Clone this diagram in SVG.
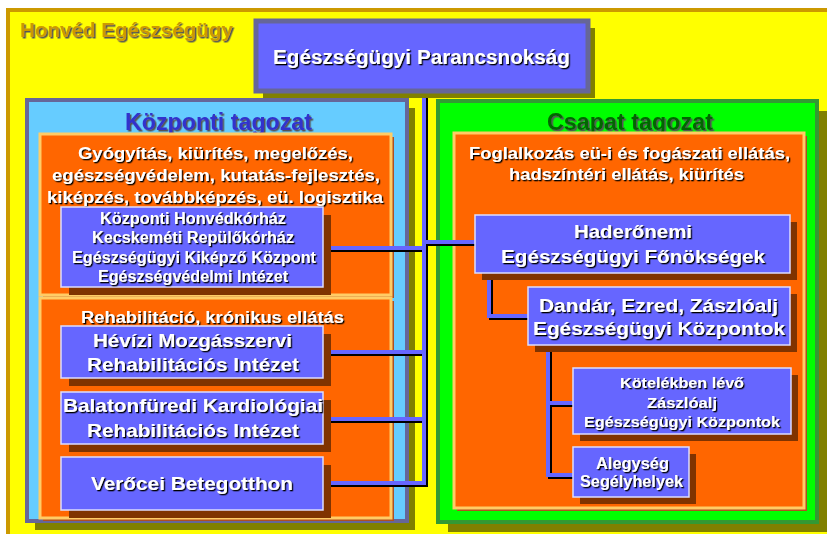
<svg xmlns="http://www.w3.org/2000/svg" width="827" height="534" viewBox="0 0 827 534">
<defs>
<filter id="ts" x="-5%" y="-20%" width="110%" height="140%"><feDropShadow dx="1.3" dy="1.3" stdDeviation="0" flood-color="#000" flood-opacity="1"/></filter>
<filter id="ts2" x="-5%" y="-20%" width="110%" height="140%"><feDropShadow dx="1.5" dy="1.5" stdDeviation="0" flood-color="#555" flood-opacity="1"/></filter>
</defs>
<style>
text{font-family:"Liberation Sans",Arial,sans-serif;font-weight:bold;text-anchor:middle}
.w{fill:#fff;filter:url(#ts)}
.box{fill:#6666FF;stroke:#DDDDFF;stroke-width:1.5}
.bsh{fill:#803300}
.org{fill:#FF6600;stroke:#FFCC66;stroke-width:3}
.osh{fill:#B05020}
.ln{fill:none;stroke:#6666FF;stroke-width:4;stroke-linejoin:miter}
.lns{fill:none;stroke:#000;stroke-width:4;stroke-linejoin:miter}
</style>
<rect x="0" y="0" width="827" height="534" fill="#fff"/>
<g id="frame">
<rect x="8" y="10" width="830" height="530" fill="#FFFF00" stroke="#CC9900" stroke-width="4"/>
<text x="20" y="37" textLength="213" lengthAdjust="spacingAndGlyphs" style="text-anchor:start;font-size:19.5px;fill:#CC9900;filter:url(#ts2)">Honvéd Egészségügy</text>
</g>
<g id="kozponti">
<rect x="35" y="108" width="380" height="422" fill="#808000"/>
<rect x="27" y="100" width="380" height="421" fill="#66CCFF" stroke="#666699" stroke-width="4"/>
<text x="218.5" y="130" textLength="187" lengthAdjust="spacingAndGlyphs" style="font-size:23px;fill:#3333CC;filter:url(#ts2)">Központi tagozat</text>
</g>
<g id="csapat">
<rect x="448" y="111" width="380" height="421" fill="#808000"/>
<rect x="438" y="101" width="379" height="421" fill="#00FF00" stroke="#339933" stroke-width="4"/>
<text x="630" y="130" textLength="166" lengthAdjust="spacingAndGlyphs" style="font-size:23px;fill:#006600;filter:url(#ts2)">Csapat tagozat</text>
</g>
<g id="kozponti-feladat">
<rect x="43" y="137" width="351" height="161" class="osh"/>
<rect x="40" y="134" width="351" height="161" class="org"/>
<text class="w" x="215.5" y="159" textLength="275" lengthAdjust="spacingAndGlyphs" style="font-size:17px">Gyógyítás, kiürítés, megelőzés,</text>
<text class="w" x="216" y="181" textLength="328" lengthAdjust="spacingAndGlyphs" style="font-size:17px">egészségvédelem, kutatás-fejlesztés,</text>
<text class="w" x="215" y="203" textLength="336" lengthAdjust="spacingAndGlyphs" style="font-size:17px">kiképzés, továbbképzés, eü. logisztika</text>
</g>
<g id="rehab">
<rect x="43" y="301" width="351" height="220" class="osh"/>
<rect x="40" y="298" width="351" height="220" class="org"/>
<text class="w" x="212.5" y="323" textLength="263" lengthAdjust="spacingAndGlyphs" style="font-size:16px">Rehabilitáció, krónikus ellátás</text>
</g>
<g id="csapat-feladat">
<rect x="457" y="136" width="350" height="375" class="osh"/>
<rect x="454" y="133" width="350" height="375" class="org"/>
<text class="w" x="629.5" y="159" textLength="321" lengthAdjust="spacingAndGlyphs" style="font-size:17px">Foglalkozás eü-i és fogászati ellátás,</text>
<text class="w" x="626.5" y="180" textLength="235" lengthAdjust="spacingAndGlyphs" style="font-size:17px">hadszíntéri ellátás, kiürítés</text>
</g>
<g id="connectors">
<polyline class="lns" points="426,93 426,485 325,485"/>
<polyline class="lns" points="325,250 426,250"/>
<polyline class="lns" points="325,354 426,354"/>
<polyline class="lns" points="325,421 426,421"/>
<polyline class="lns" points="426,244 477,244"/>
<polyline class="lns" points="491,275 491,318 530,318"/>
<polyline class="lns" points="550,347 550,477 575,477"/>
<polyline class="lns" points="550,405 575,405"/>
<polyline class="ln" points="424,91 424,483 323,483"/>
<polyline class="ln" points="323,248 424,248"/>
<polyline class="ln" points="323,352 424,352"/>
<polyline class="ln" points="323,419 424,419"/>
<polyline class="ln" points="424,242 475,242"/>
<polyline class="ln" points="489,273 489,316 528,316"/>
<polyline class="ln" points="548,345 548,475 573,475"/>
<polyline class="ln" points="548,403 573,403"/>
</g>
<g id="parancsnoksag">
<rect x="263" y="28" width="332" height="70" fill="#808000"/>
<rect x="256" y="21" width="332" height="70" fill="#6666FF" stroke="#666699" stroke-width="5"/>
<text class="w" x="421.5" y="64" textLength="297" lengthAdjust="spacingAndGlyphs" style="font-size:20px">Egészségügyi Parancsnokság</text>
</g>
<g id="kozponti-intezmenyek">
<rect x="69" y="215" width="262" height="80" class="bsh"/>
<rect x="61" y="207" width="262" height="80" class="box"/>
<text class="w" x="193" y="224" textLength="186" lengthAdjust="spacingAndGlyphs" style="font-size:16px">Központi Honvédkórház</text>
<text class="w" x="193" y="243" textLength="202" lengthAdjust="spacingAndGlyphs" style="font-size:16px">Kecskeméti Repülőkórház</text>
<text class="w" x="194" y="263" textLength="244" lengthAdjust="spacingAndGlyphs" style="font-size:16px">Egészségügyi Kiképző Központ</text>
<text class="w" x="193" y="282" textLength="190" lengthAdjust="spacingAndGlyphs" style="font-size:16px">Egészségvédelmi Intézet</text>
</g>
<g id="hevizi">
<rect x="69" y="334" width="262" height="52" class="bsh"/>
<rect x="61" y="326" width="262" height="52" class="box"/>
<text class="w" x="192.5" y="347" textLength="199" lengthAdjust="spacingAndGlyphs" style="font-size:19px">Hévízi Mozgásszervi</text>
<text class="w" x="193" y="371" textLength="212" lengthAdjust="spacingAndGlyphs" style="font-size:19px">Rehabilitációs Intézet</text>
</g>
<g id="balatonfuredi">
<rect x="69" y="400" width="262" height="52" class="bsh"/>
<rect x="61" y="392" width="262" height="52" class="box"/>
<text class="w" x="193" y="412" textLength="260" lengthAdjust="spacingAndGlyphs" style="font-size:19px">Balatonfüredi Kardiológiai</text>
<text class="w" x="193" y="437" textLength="212" lengthAdjust="spacingAndGlyphs" style="font-size:19px">Rehabilitációs Intézet</text>
</g>
<g id="verocei">
<rect x="69" y="465" width="262" height="53" class="bsh"/>
<rect x="61" y="457" width="262" height="53" class="box"/>
<text class="w" x="192" y="490" textLength="202" lengthAdjust="spacingAndGlyphs" style="font-size:19px">Verőcei Betegotthon</text>
</g>
<g id="haderonemi">
<rect x="482" y="222" width="315" height="58" class="bsh"/>
<rect x="475" y="215" width="315" height="58" class="box"/>
<text class="w" x="633" y="238" textLength="118" lengthAdjust="spacingAndGlyphs" style="font-size:19px">Haderőnemi</text>
<text class="w" x="633" y="263" textLength="264" lengthAdjust="spacingAndGlyphs" style="font-size:19px">Egészségügyi Főnökségek</text>
</g>
<g id="dandar">
<rect x="535" y="294" width="262" height="58" class="bsh"/>
<rect x="528" y="287" width="262" height="58" class="box"/>
<text class="w" x="658.5" y="312" textLength="239" lengthAdjust="spacingAndGlyphs" style="font-size:19px">Dandár, Ezred, Zászlóalj</text>
<text class="w" x="659" y="335" textLength="252" lengthAdjust="spacingAndGlyphs" style="font-size:19px">Egészségügyi Központok</text>
</g>
<g id="kotelekben">
<rect x="580" y="375" width="218" height="66" class="bsh"/>
<rect x="573" y="368" width="218" height="66" class="box"/>
<text class="w" x="682" y="388" textLength="124" lengthAdjust="spacingAndGlyphs" style="font-size:15.5px">Kötelékben lévő</text>
<text class="w" x="682" y="408" textLength="70" lengthAdjust="spacingAndGlyphs" style="font-size:15.5px">Zászlóalj</text>
<text class="w" x="682" y="427" textLength="196" lengthAdjust="spacingAndGlyphs" style="font-size:15.5px">Egészségügyi Központok</text>
</g>
<g id="alegyseg">
<rect x="580" y="454" width="116" height="50" class="bsh"/>
<rect x="573" y="447" width="116" height="50" class="box"/>
<text class="w" x="632.5" y="469" textLength="73" lengthAdjust="spacingAndGlyphs" style="font-size:16px">Alegység</text>
<text class="w" x="631.5" y="487" textLength="103" lengthAdjust="spacingAndGlyphs" style="font-size:16px">Segélyhelyek</text>
</g>
</svg>
